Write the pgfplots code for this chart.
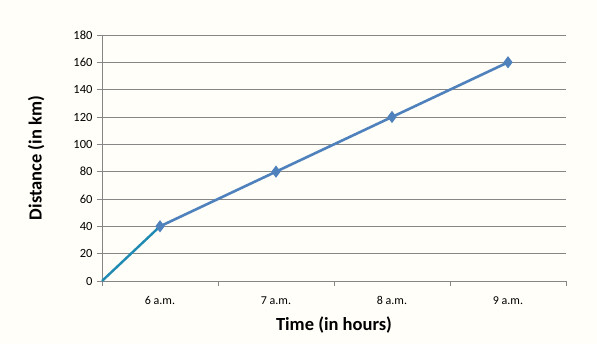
\documentclass[border=0pt]{standalone}
\usepackage{pgfplots}
\pgfplotsset{compat=1.18}
\usepackage{fontspec}
\setmainfont{Carlito}
\definecolor{bg}{RGB}{255,254,248}
\definecolor{gridc}{RGB}{134,134,134}
\definecolor{serblue}{RGB}{79,129,189}
\definecolor{serteal}{RGB}{31,138,178}
\begin{document}
\begin{tikzpicture}[x=1pt,y=1pt]
\fill[bg] (-102,-63) rectangle (495,281);
\begin{axis}[
  at={(0,0)}, anchor=south west,
  scale only axis, width=464pt, height=246pt,
  xmin=0, xmax=4, ymin=0, ymax=180,
  axis lines=left, axis line style={gridc, line width=0.8pt, -},
  ytick={0,20,...,180},
  ymajorgrids, grid style={gridc, line width=0.8pt},
  xtick={0.5,1.5,2.5,3.5},
  xticklabels={6 a.m.,7 a.m.,8 a.m.,9 a.m.},
  minor xtick={0,1,2,3,4},
  xtick style={draw=none},
  minor tick length=5pt,
  tick align=outside,
  major tick length=5pt,
  ytick style={gridc, line width=0.8pt},
  minor x tick style={gridc, line width=0.8pt, draw=gridc},
  /pgf/number format/assume math mode=true,
  yticklabel style={font=\fontsize{12.5}{14}\selectfont, xshift=-1pt},
  xticklabel style={font=\fontsize{12}{14}\selectfont, yshift=-7pt},
  xlabel={\textbf{Time (in hours)}},
  ylabel={\textbf{Distance (in km)}},
  label style={font=\fontsize{18.5}{20}\selectfont},
  xlabel style={at={(axis description cs:0.5,-0.178)}, anchor=center},
  ylabel style={at={(axis description cs:-0.142,0.5)}, anchor=center},
  clip=false,
]
\addplot[serblue, line width=2.6pt, mark=diamond*, mark size=4pt, mark options={solid}] coordinates {(0.5,40) (1.5,80) (2.5,120) (3.5,160)};
\addplot[serteal, line width=2.4pt] coordinates {(0,0) (0.5,40)};
\end{axis}
\end{tikzpicture}
\end{document}
